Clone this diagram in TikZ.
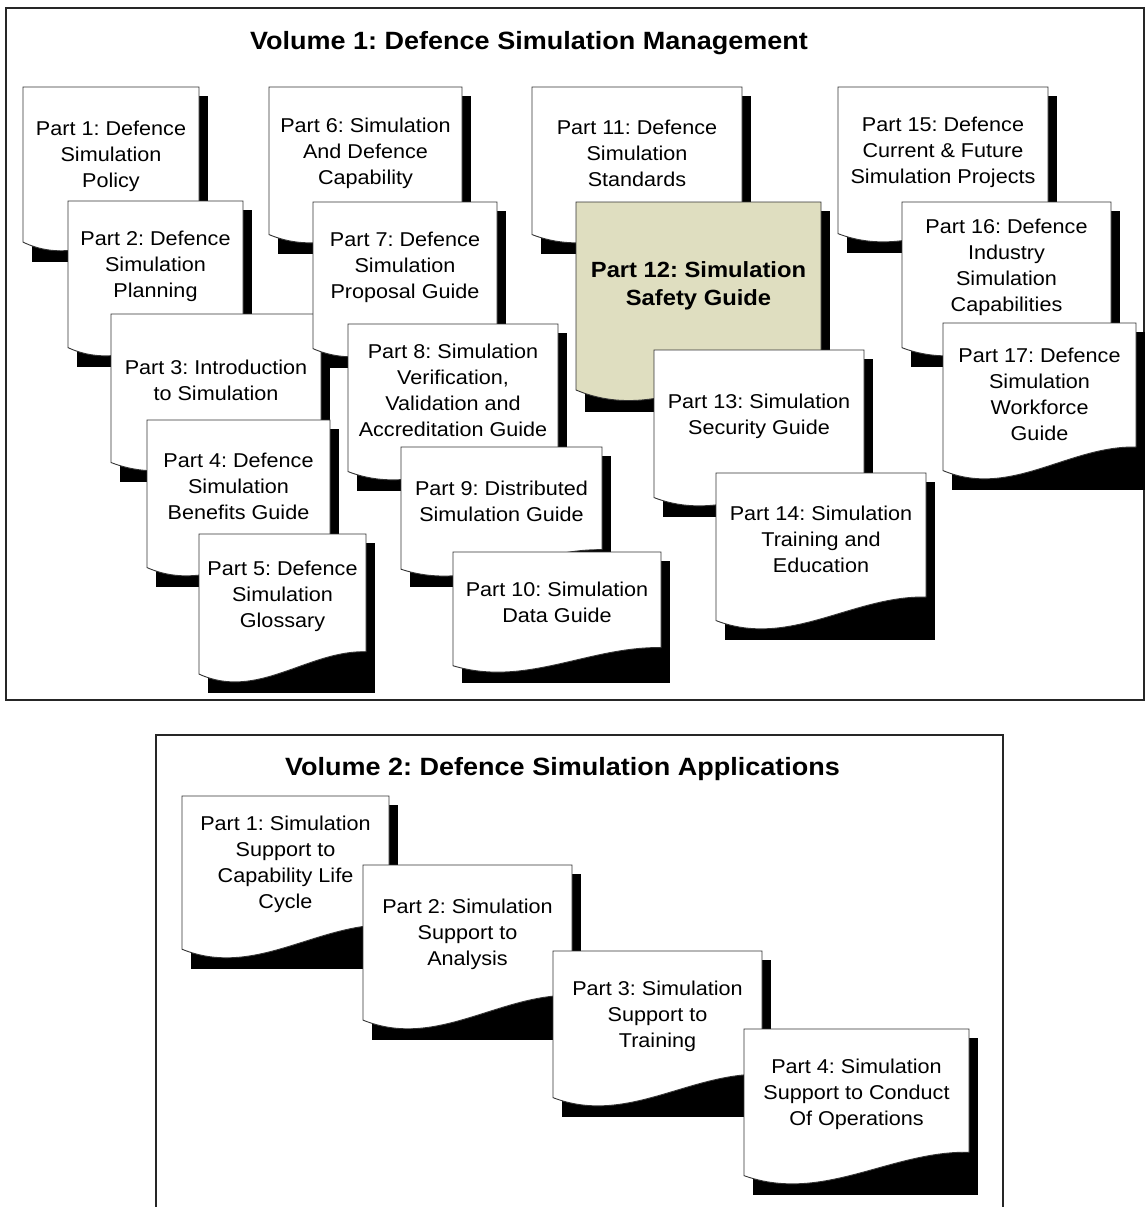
\documentclass[tikz,border=0pt]{standalone}
\usepackage{fontspec}
\setmainfont{Liberation Sans}[FakeStretch=1.08]
\frenchspacing
\definecolor{safety}{RGB}{223,222,192}
\tikzset{
  docedge/.style={draw=black!80, line width=0.9pt},
  docshadow/.style={fill=black},
  doctext/.style={align=center, inner sep=0pt, font=\frenchspacing\fontsize{20}{26}\selectfont},
  keytext/.style={font=\frenchspacing\bfseries\fontsize{22}{28}\selectfont},
  voltitle/.style={inner sep=0pt, anchor=base west, font=\frenchspacing\bfseries\fontsize{25}{30}\selectfont},
  volframe/.style={draw=black!85, line width=1.3pt, fill=white},
}
% \docpage{name}{left}{top}{right}{bottom}{fill}{text style}{text}
% a flowchart "document" sheet with a wavy lower edge and a solid drop shadow
\newcommand\docpage[8]{%
  \pgfmathsetmacro\dW{#4-#2}%
  \pgfmathsetmacro\dH{#5-#3}%
  \fill[docshadow] (#2+9,#3+9) rectangle (#4+9,#5+10);
  \path[docedge, fill=#6] (#2,#3) -- (#4,#3) -- (#4,#3+0.79*\dH)
    .. controls (#2+0.65*\dW,#3+0.78*\dH) and (#2+0.35*\dW,#3+1.12*\dH) .. (#2,#3+0.94*\dH) -- cycle;
  \node[doctext,#7] (#1) at ({(#2+#4)/2},{#3+0.42*\dH}) {#8};
}
\begin{document}
\begin{tikzpicture}[x=1pt,y=-1pt]
\path[use as bounding box, clip] (0,0) rectangle (1146,1207);
\fill[white] (0,0) rectangle (1146,1207);

% ---------- Volume 1 ----------
\draw[volframe] (6,8) rectangle (1144,700);
\node[voltitle] (v1title) at (250,50) {Volume 1: Defence Simulation Management};

\docpage{a1}{23}{87}{199}{252}{white}{}{Part 1: Defence\\Simulation\\Policy}
\docpage{a2}{68}{201}{243}{357}{white}{}{Part 2: Defence\\Simulation\\Planning}
\docpage{a3}{111}{314}{321}{472}{white}{}{Part 3: Introduction\\to Simulation}
\docpage{a4}{147}{420}{330}{577}{white}{}{Part 4: Defence\\Simulation\\Benefits Guide}
\docpage{a5}{199}{534}{366}{683}{white}{}{Part 5: Defence\\Simulation\\Glossary}

\docpage{a6}{269}{87}{462}{244}{white}{}{Part 6: Simulation\\And Defence\\Capability}
\docpage{a7}{313}{202}{497}{358}{white}{}{Part 7: Defence\\Simulation\\Proposal Guide}
\docpage{a8}{348}{324}{558}{481}{white}{}{Part 8: Simulation\\Verification,\\Validation and\\Accreditation Guide}
\docpage{a9}{401}{447}{602}{577}{white}{}{Part 9: Distributed\\Simulation Guide}
\docpage{a10}{453}{552}{661}{673}{white}{}{Part 10: Simulation\\Data Guide}

\docpage{a11}{532}{87}{742}{244}{white}{}{Part 11: Defence\\Simulation\\Standards}
\docpage{a12}{576}{202}{821}{402}{safety}{keytext}{Part 12: Simulation\\Safety Guide}
\docpage{a13}{654}{350}{864}{507}{white}{}{Part 13: Simulation\\Security Guide}
\docpage{a14}{716}{473}{926}{630}{white}{}{Part 14: Simulation\\Training and\\Education}

\docpage{a15}{838}{87}{1048}{243}{white}{}{Part 15: Defence\\Current \& Future\\Simulation Projects}
\docpage{a16}{902}{202}{1111}{357}{white}{}{Part 16: Defence\\Industry\\Simulation\\Capabilities}
\docpage{a17}{943}{323}{1136}{480}{white}{yshift=-5pt}{Part 17: Defence\\Simulation\\Workforce\\Guide}

% ---------- Volume 2 ----------
\draw[volframe] (156,735) rectangle (1003,1220);
\node[voltitle] (v2title) at (285,775) {Volume 2: Defence Simulation Applications};

\docpage{b1}{182}{796}{389}{959}{white}{}{Part 1: Simulation\\Support to\\Capability Life\\Cycle}
\docpage{b2}{363}{865}{572}{1030}{white}{}{Part 2: Simulation\\Support to\\Analysis}
\docpage{b3}{553}{951}{762}{1107}{white}{}{Part 3: Simulation\\Support to\\Training}
\docpage{b4}{744}{1029}{969}{1185}{white}{}{Part 4: Simulation\\Support to Conduct\\Of Operations}
\end{tikzpicture}
\end{document}
